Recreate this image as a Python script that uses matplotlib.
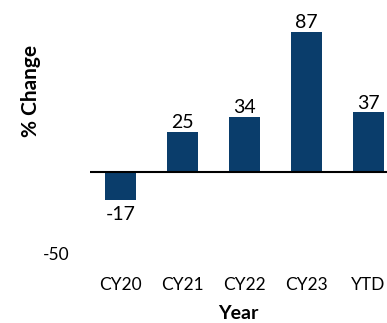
import matplotlib.pyplot as plt

plt.rcParams['font.family'] = ['Lato', 'DejaVu Sans']

years = ['CY20', 'CY21', 'CY22', 'CY23', 'YTD']
changes = [-17, 25, 34, 87, 37]
bar_color = '#0A3D6B'

fig = plt.figure(figsize=(3.87, 3.23), dpi=100)
ax = fig.add_axes([90 / 387, 70 / 323, 297 / 387, 242.5 / 323])

x = list(range(len(years)))
ax.bar(x, changes, width=0.5, color=bar_color)
ax.axhline(0, color='black', lw=1.5)

for xi, v in zip(x, changes):
    if v >= 0:
        ax.text(xi, v + 0.5, str(v), ha='center', va='bottom', fontsize=14)
    else:
        ax.text(xi, v - 4, str(v), ha='center', va='top', fontsize=14)

ax.set_xlim(-0.5, 4.3)
ax.set_ylim(-50, 100)
ax.set_xticks(x)
ax.set_xticklabels(years, fontsize=12.5)
ax.set_yticks([-50])
ax.set_yticklabels(['-50'], fontsize=12.5)
ax.tick_params(length=0)
ax.tick_params(axis='y', pad=15)
ax.tick_params(axis='x', pad=17)
for s in ax.spines.values():
    s.set_visible(False)

ax.set_xlabel('Year', fontsize=14, fontweight='bold')
ax.set_ylabel('% Change', fontsize=15, fontweight='bold')
ax.yaxis.set_label_coords(-0.165, 0.67)
ax.xaxis.set_label_coords(0.5, -0.215)

plt.savefig('out.png', dpi=100)
